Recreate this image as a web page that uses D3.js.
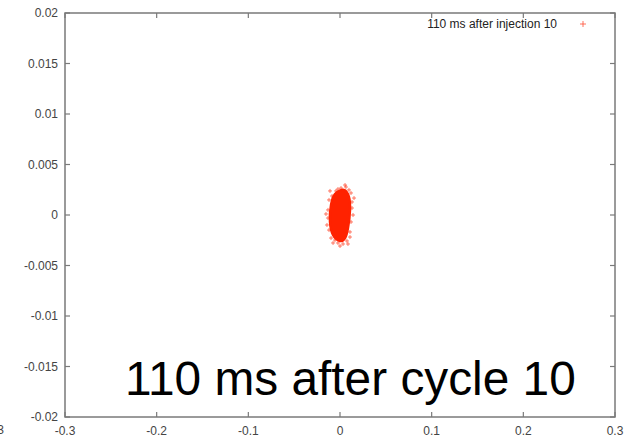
<!DOCTYPE html>
<html>
<head>
<meta charset="utf-8">
<script src="https://cdn.jsdelivr.net/npm/d3@7"></script>
<style>
  body { margin: 0; background: #fff; }
  svg { display: block; font-family: Arial, "Liberation Sans", sans-serif; }
</style>
</head>
<body>
<svg id="chart" width="628" height="444"></svg>
<script>
// axis ticks
const xTicks = [-0.3, -0.2, -0.1, 0, 0.1, 0.2, 0.3];
const xTickLabels = ["-0.3", "-0.2", "-0.1", "0", "0.1", "0.2", "0.3"];
const yTicks = [0.02, 0.015, 0.01, 0.005, 0, -0.005, -0.01, -0.015, -0.02];
const yTickLabels = ["0.02", "0.015", "0.01", "0.005", "0", "-0.005", "-0.01", "-0.015", "-0.02"];

const seriesName = "110 ms after injection 10";
const caption = "110 ms after cycle 10";

// dense core of the particle cloud (outline, x / y)
const coreX = [0.0044, 0.0098, 0.0109, 0.0087, 0.0055, 0.0, -0.0076, -0.0109, -0.0098, -0.0055];
const coreY = [0.00248, 0.00178, 0.0005, -0.00129, -0.00228, -0.00257, -0.00198, -0.00069, 0.00099, 0.00208];

// scattered particles at the edge of the cloud
const edgeX = [0.0065, 0.0011, 0.0120, 0.0131, 0.0142, 0.0120, 0.0109, 0.0076, 0.0033, -0.0022,
  -0.0055, -0.0098, -0.0120, -0.0131, -0.0131, -0.0120, -0.0087, -0.0022, 0.0098, -0.0044,
  0.0131, 0.0109, -0.0142, -0.0076, 0.0, 0.0055, 0.0153, -0.0153, -0.0109, 0.0087];
const edgeY = [0.00277, 0.00267, 0.00218, 0.00129, 0.0, -0.00069, -0.00168, -0.00257, -0.00287, -0.00277,
  -0.00248, -0.00228, -0.00149, -0.0003, 0.0005, 0.00149, 0.00188, 0.00257, 0.00248, 0.00238,
  0.00069, -0.00218, -0.00099, -0.00277, -0.00307, 0.00297, 0.00168, 0.0001, 0.00238, -0.00287];

const RED = "#ff2200";
const AXIS = "#7a7a7a";
const LABEL = "#444";

const svg = d3.select("#chart");
const pLeft = 65, pRight = 615, pTop = 13, pBottom = 417;

const x = d3.scaleLinear().domain([-0.3, 0.3]).range([pLeft, pRight]);
const y = d3.scaleLinear().domain([-0.02, 0.02]).range([pBottom, pTop]);

svg.append("rect").attr("width", 628).attr("height", 444).attr("fill", "#fff");

// clipped digit at far left (edge of neighbouring panel)
svg.append("text").attr("x", 4).attr("y", 434).attr("text-anchor", "end")
  .attr("font-size", 12).attr("fill", LABEL).text("3");

const plot = svg.append("g");

// cloud
plot.append("path")
  .datum(coreX.map((d, i) => [d, coreY[i]]))
  .attr("d", d3.line().x(d => x(d[0])).y(d => y(d[1])).curve(d3.curveCardinalClosed))
  .attr("fill", RED)
  .attr("stroke", RED)
  .attr("stroke-width", 2.5);

const plus = (g, s, w) => g.append("path")
  .attr("d", `M${-s},0H${s}M0,${-s}V${s}`)
  .attr("stroke", RED).attr("stroke-width", w);

edgeX.forEach((d, i) => {
  const g = plot.append("g").attr("transform", `translate(${x(d)},${y(edgeY[i])})`);
  plus(g, 2, 0.8).attr("opacity", 0.75);
});

// frame
svg.append("rect")
  .attr("x", pLeft).attr("y", pTop)
  .attr("width", pRight - pLeft).attr("height", pBottom - pTop)
  .attr("fill", "none").attr("stroke", AXIS).attr("stroke-width", 1.5);

// ticks, mirrored inward on all four sides
const tl = 5;
xTicks.forEach(t => {
  svg.append("line").attr("x1", x(t)).attr("x2", x(t)).attr("y1", pBottom).attr("y2", pBottom - tl)
    .attr("stroke", AXIS).attr("stroke-width", 1.2);
  svg.append("line").attr("x1", x(t)).attr("x2", x(t)).attr("y1", pTop).attr("y2", pTop + tl)
    .attr("stroke", AXIS).attr("stroke-width", 1.2);
});
yTicks.forEach(t => {
  svg.append("line").attr("x1", pLeft).attr("x2", pLeft + tl).attr("y1", y(t)).attr("y2", y(t))
    .attr("stroke", AXIS).attr("stroke-width", 1.2);
  svg.append("line").attr("x1", pRight).attr("x2", pRight - tl).attr("y1", y(t)).attr("y2", y(t))
    .attr("stroke", AXIS).attr("stroke-width", 1.2);
});

svg.selectAll(".xl").data(xTicks).join("text")
  .attr("x", d => x(d)).attr("y", 435)
  .attr("text-anchor", "middle").attr("font-size", 12).attr("fill", LABEL)
  .text((d, i) => xTickLabels[i]);

svg.selectAll(".yl").data(yTicks).join("text")
  .attr("x", 58).attr("y", d => y(d) + 4)
  .attr("text-anchor", "end").attr("font-size", 12).attr("fill", LABEL)
  .text((d, i) => yTickLabels[i]);

// legend
svg.append("text").attr("x", 557).attr("y", 28).attr("text-anchor", "end")
  .attr("font-size", 12).attr("fill", "#222").text(seriesName);
plus(svg.append("g").attr("transform", "translate(583,24)"), 3, 0.8).attr("opacity", 0.8);

// caption
svg.append("text").attr("x", 125).attr("y", 395)
  .attr("font-size", 47.8).attr("fill", "#000").text(caption);
</script>
</body>
</html>
